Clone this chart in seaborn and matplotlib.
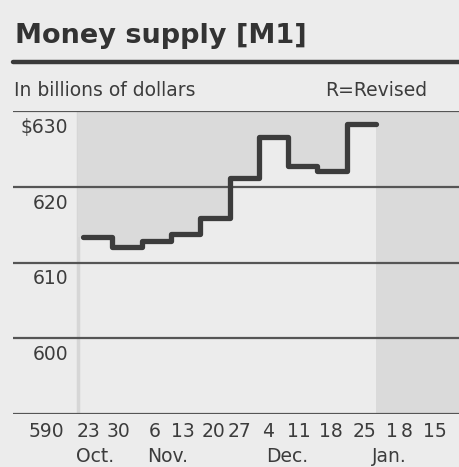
import numpy as np
import pandas as pd
import seaborn as sns
import matplotlib.pyplot as plt

# weekly M1, billions of dollars (Oct. 23 .. Dec. 25)
weeks = ["23", "30", "6", "13", "20", "27", "4", "11", "18", "25"]
m1 = [613.4, 612.0, 612.9, 613.7, 615.9, 621.2, 626.6, 622.8, 622.1, 628.3]
tick_labels = ["23", "30", "6", "13", "20", "27", "4", "11", "18", "25", "1", "8", "15"]
tick_pos = [0.17, 1.2, 2.45, 3.4, 4.45, 5.35, 6.3, 7.35, 8.45, 9.6, 10.55, 11.05, 12.0]
months = ["Oct.", "Nov.", "Dec.", "Jan."]
month_pos = [0.4, 2.9, 6.95, 10.45]
y_ticks = [630, 620, 610, 600, 590]
y_labels = ["$630", "620", "610", "600", "590"]

bg = "#ececec"
shade = "#dadada"
ink = "#3c3c3c"

sns.set_theme(style="white")
plt.rcParams["font.family"] = ["DejaVu Sans"]

fig = plt.figure(figsize=(4.59, 4.67), dpi=100)
fig.patch.set_facecolor(bg)

W, H = 459, 467
# axes: gridline span x 13..459, y 111 (630) .. 414 (590)
ax = fig.add_axes([13 / W, 1 - 414 / H, (459 - 13) / W, (414 - 111) / H])
ax.set_facecolor(bg)
x_left, x_right = -2.39, 12.83
ax.set_xlim(x_left, x_right)
ax.set_ylim(590, 630)

df = pd.DataFrame({"x": np.arange(len(m1) + 1), "m1": m1 + [m1[-1]]})

# shaded area above the line
ax.fill_between(df["x"], df["m1"], 630, step="post", color=shade, lw=0, zorder=1)
# future weeks band
ax.axvspan(10, x_right, color=shade, lw=0, zorder=1)
ax.axvline(-0.17, color="#d6d6d6", lw=2.5, zorder=1)
ax.fill_between([-0.17, 0], 613.4, 630, color=shade, lw=0, zorder=1)

for v in y_ticks:
    ax.axhline(v, color="#555555", lw=1.6, zorder=2)

sns.lineplot(data=df, x="x", y="m1", drawstyle="steps-post", color=ink,
             lw=3.8, ax=ax, zorder=3)

ax.set_xticks([])
ax.set_yticks([])
ax.set_xlabel("")
ax.set_ylabel("")
for s in ax.spines.values():
    s.set_visible(False)

fs = 13.5
for v, lab in zip(y_ticks, y_labels):
    if v == 590:
        continue
    ax.annotate(lab, xy=(-0.5, v), xytext=(0, -5), textcoords="offset points",
                ha="right", va="top", fontsize=fs, color=ink)

ax.annotate("590", xy=(-1.24, 590), xytext=(0, -6), textcoords="offset points",
            ha="center", va="top", fontsize=fs, color=ink)
for p, lab in zip(tick_pos, tick_labels):
    ax.annotate(lab, xy=(p, 590), xytext=(0, -6), textcoords="offset points",
                ha="center", va="top", fontsize=fs, color=ink)
for p, lab in zip(month_pos, months):
    ax.annotate(lab, xy=(p, 590), xytext=(0, -24), textcoords="offset points",
                ha="center", va="top", fontsize=fs, color=ink)

# header
fig.text(15 / W, 1 - 36 / H, "Money supply [M1]", fontsize=19.5, fontweight="bold",
         color="#333333", ha="left", va="center")
fig.add_artist(plt.Line2D([13 / W, 1], [1 - 62 / H, 1 - 62 / H], color="#3a3a3a", lw=3.2))
fig.text(14 / W, 1 - 90 / H, "In billions of dollars", fontsize=13.5, color=ink,
         ha="left", va="center")
fig.text(325 / W, 1 - 90 / H, "R=Revised", fontsize=13.5, color=ink,
         ha="left", va="center")

fig.savefig("out.png", dpi=100, facecolor=bg)
